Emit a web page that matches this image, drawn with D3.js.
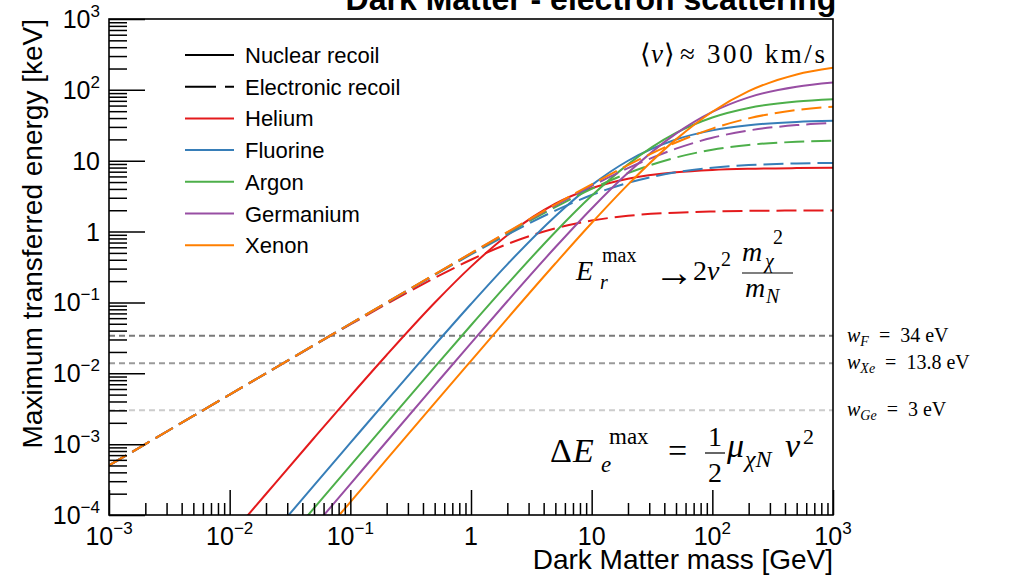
<!DOCTYPE html>
<html>
<head>
<meta charset="utf-8">
<script src="https://cdn.jsdelivr.net/npm/d3@7"></script>
<style>
  body { margin: 0; background: #fff; }
  svg { display: block; }
  .sans { font-family: "Liberation Sans", Arial, Helvetica, sans-serif; }
  .serif { font-family: "Liberation Serif", "Times New Roman", serif; }
</style>
</head>
<body>
<svg id="chart"></svg>
<script>
// Dark matter mass grid [GeV]
var masses = [0.001, 0.002, 0.005, 0.01, 0.02, 0.05, 0.1, 0.2, 0.5, 1, 2, 5, 10, 20, 50, 100, 200, 500, 1000];

var elements = ["Helium", "Fluorine", "Argon", "Germanium", "Xenon"];

// Maximum nuclear recoil energy [keV] (null = far below the axis)
var nuclearHe = [null, null, null, 4.98e-5, 1.98e-4, 1.22e-3, 4.76e-3, 0.0181, 0.0988, 0.320, 0.889, 2.47, 4.08, 5.56, 6.86, 7.40, 7.69, 7.87, 7.94];
var nuclearF  = [null, null, null, null, 4.20e-5, 2.62e-4, 1.04e-3, 4.12e-3, 0.0250, 0.0950, 0.345, 1.65, 4.52, 9.99, 19.95, 26.8, 31.7, 35.3, 36.6];
var nuclearAr = [null, null, null, null, 2.00e-5, 1.25e-4, 4.98e-4, 1.98e-3, 0.0122, 0.0476, 0.181, 0.988, 3.20, 8.89, 24.7, 40.8, 55.6, 68.6, 74.0];
var nuclearGe = [null, null, null, null, null, 6.84e-5, 2.73e-4, 1.09e-3, 6.76e-3, 0.0267, 0.104, 0.600, 2.12, 6.75, 24.1, 48.8, 78.4, 111, 127];
var nuclearXe = [null, null, null, null, null, 3.81e-5, 1.52e-4, 6.09e-4, 3.79e-3, 0.0150, 0.0592, 0.354, 1.32, 4.60, 20.0, 49.1, 95.7, 165, 205];

// Maximum electronic recoil energy [keV]
var electronHe = [5.0e-4, 1.0e-3, 2.50e-3, 4.99e-3, 9.95e-3, 0.0247, 0.0488, 0.0952, 0.222, 0.400, 0.667, 1.11, 1.43, 1.67, 1.85, 1.92, 1.96, 1.98, 1.99];
var electronF  = [5.0e-4, 1.0e-3, 2.50e-3, 5.00e-3, 9.99e-3, 0.0249, 0.0497, 0.0990, 0.244, 0.475, 0.905, 1.98, 3.28, 4.87, 6.88, 7.98, 8.68, 9.15, 9.32];
var electronAr = [5.0e-4, 1.0e-3, 2.50e-3, 5.00e-3, 1.00e-2, 0.0250, 0.0499, 0.0995, 0.247, 0.488, 0.952, 2.22, 4.00, 6.67, 11.1, 14.3, 16.7, 18.5, 19.2];
var electronGe = [5.0e-4, 1.0e-3, 2.50e-3, 5.00e-3, 1.00e-2, 0.0250, 0.0499, 0.0997, 0.248, 0.493, 0.973, 2.34, 4.40, 7.85, 14.8, 21.1, 26.7, 31.8, 34.0];
var electronXe = [5.0e-4, 1.0e-3, 2.50e-3, 5.00e-3, 1.00e-2, 0.0250, 0.0500, 0.0998, 0.249, 0.496, 0.985, 2.41, 4.65, 8.68, 18.1, 28.4, 39.6, 51.9, 57.9];

// Mean ionisation energies [keV]
var wValues = [0.034, 0.0138, 0.003];
var wSymbols = ["F", "Xe", "Ge"];
var wTexts = ["34 eV", "13.8 eV", "3 eV"];

// tick labels
var xTickValues = [1e-3, 1e-2, 1e-1, 1, 10, 1e2, 1e3];
var xTickLabels = ["10^−3", "10^−2", "10^−1", "1", "10", "10^2", "10^3"];
var yTickValues = [1e-4, 1e-3, 1e-2, 1e-1, 1, 10, 1e2, 1e3];
var yTickLabels = ["10^−4", "10^−3", "10^−2", "10^−1", "1", "10", "10^2", "10^3"];

var colors = ["#e41a1c", "#377eb8", "#4daf4a", "#984ea3", "#ff7f00"];
var wColors = ["#7a7a7a", "#9a9a9a", "#cccccc"];

var nuclear = [nuclearHe, nuclearF, nuclearAr, nuclearGe, nuclearXe];
var electron = [electronHe, electronF, electronAr, electronGe, electronXe];

var width = 1011, height = 575;
var margin = { top: 19, right: 178, bottom: 60, left: 109 };
var pw = width - margin.left - margin.right,
    ph = height - margin.top - margin.bottom;

var svg = d3.select("#chart").attr("width", width).attr("height", height);

var x = d3.scaleLog().domain([1e-3, 1e3]).range([margin.left, margin.left + pw]);
var y = d3.scaleLog().domain([1e-4, 1e3]).range([margin.top + ph, margin.top]);

svg.append("clipPath").attr("id", "clip")
    .append("rect")
    .attr("x", margin.left).attr("y", margin.top)
    .attr("width", pw).attr("height", ph);

// ionisation energy lines
var plot = svg.append("g").attr("clip-path", "url(#clip)");
wValues.forEach(function (w, i) {
    plot.append("line")
        .attr("x1", x(1e-3)).attr("x2", x(1e3))
        .attr("y1", y(w)).attr("y2", y(w))
        .attr("stroke", wColors[i])
        .attr("stroke-width", 2)
        .attr("stroke-dasharray", "6,4");
});

var line = d3.line()
    .defined(function (d) { return d[1] != null; })
    .x(function (d) { return x(d[0]); })
    .y(function (d) { return y(d[1]); })
    .curve(d3.curveMonotoneX);

elements.forEach(function (el, i) {
    plot.append("path")
        .datum(masses.map(function (m, j) { return [m, nuclear[i][j]]; }))
        .attr("d", line)
        .attr("fill", "none")
        .attr("stroke", colors[i])
        .attr("stroke-width", 2);
    plot.append("path")
        .datum(masses.map(function (m, j) { return [m, electron[i][j]]; }))
        .attr("d", line)
        .attr("fill", "none")
        .attr("stroke", colors[i])
        .attr("stroke-width", 2)
        .attr("stroke-dasharray", "20,7");
});

// minor tick values
function minors(lo, hi) {
    var out = [];
    for (var e = lo; e < hi; e++) {
        for (var k = 2; k <= 9; k++) out.push(k * Math.pow(10, e));
    }
    return out;
}

// axes (ticks point inwards)
var gx = svg.append("g").attr("transform", "translate(0," + (margin.top + ph) + ")");
gx.append("g").call(d3.axisBottom(x).tickValues(xTickValues).tickSize(-25).tickFormat(""));
gx.append("g").call(d3.axisBottom(x).tickValues(minors(-3, 3)).tickSize(-12).tickFormat(""));

var gy = svg.append("g").attr("transform", "translate(" + margin.left + ",0)");
gy.append("g").call(d3.axisLeft(y).tickValues(yTickValues).tickSize(-36).tickFormat(""));
gy.append("g").call(d3.axisLeft(y).tickValues(minors(-4, 3)).tickSize(-18).tickFormat(""));

svg.selectAll(".domain").remove();
svg.selectAll(".tick line").attr("stroke", "#000").attr("stroke-width", 1.5);

// frame
svg.append("rect")
    .attr("x", margin.left).attr("y", margin.top)
    .attr("width", pw).attr("height", ph)
    .attr("fill", "none").attr("stroke", "#000").attr("stroke-width", 1.6);

// tick labels with exponents
function powerLabel(sel, label) {
    var parts = label.split("^");
    sel.append("tspan").text(parts[0]);
    if (parts.length > 1) {
        sel.append("tspan")
            .attr("dy", -11)
            .attr("font-size", "17px")
            .text(parts[1]);
    }
}

xTickValues.forEach(function (v, i) {
    var t = svg.append("text")
        .attr("class", "sans")
        .attr("x", x(v)).attr("y", 545)
        .attr("text-anchor", "middle")
        .attr("font-size", "25px");
    powerLabel(t, xTickLabels[i]);
});

yTickValues.forEach(function (v, i) {
    var t = svg.append("text")
        .attr("class", "sans")
        .attr("x", 100).attr("y", y(v) + 9)
        .attr("text-anchor", "end")
        .attr("font-size", "25px");
    powerLabel(t, yTickLabels[i]);
});

// axis titles
svg.append("text")
    .attr("class", "sans")
    .attr("x", margin.left + pw).attr("y", 569)
    .attr("text-anchor", "end")
    .attr("font-size", "28px")
    .text("Dark Matter mass [GeV]");

svg.append("text")
    .attr("class", "sans")
    .attr("transform", "translate(42," + margin.top + ") rotate(-90)")
    .attr("text-anchor", "end")
    .attr("font-size", "28px")
    .text("Maximum transferred energy [keV]");

// title (cut by the top edge)
svg.append("text")
    .attr("class", "sans")
    .attr("x", 591).attr("y", 10)
    .attr("text-anchor", "middle")
    .attr("font-size", "32px")
    .attr("font-weight", "bold")
    .text("Dark Matter - electron scattering");

// legend
var legendRows = ["Nuclear recoil", "Electronic recoil"].concat(elements);
var legendColors = ["#000", "#000"].concat(colors);
legendRows.forEach(function (name, i) {
    var ly = 55 + i * 31.7;
    svg.append("line")
        .attr("x1", 185).attr("x2", 234)
        .attr("y1", ly).attr("y2", ly)
        .attr("stroke", legendColors[i])
        .attr("stroke-width", 2)
        .attr("stroke-dasharray", i === 1 ? "31,9" : null);
    svg.append("text")
        .attr("class", "sans")
        .attr("x", 245).attr("y", ly + 8)
        .attr("font-size", "22px")
        .text(name);
});

// annotations
var serif = function (txt, px, py, size, italic, anchor) {
    return svg.append("text")
        .attr("class", "serif")
        .attr("x", px).attr("y", py)
        .attr("font-size", size + "px")
        .attr("font-style", italic ? "italic" : "normal")
        .attr("text-anchor", anchor || "start")
        .text(txt);
};

serif("⟨", 640, 63, 27, false);
serif("v", 651, 63, 27, true);
serif("⟩", 664, 63, 27, false);
serif("≈", 680, 63, 27, false);
serif("300 km/s", 707, 63, 27, false)
    .attr("textLength", 118).attr("lengthAdjust", "spacing");

// E_r^max -> 2 v^2 m_chi^2 / m_N
serif("E", 576, 280, 28, true);
serif("max", 602, 262, 20, false);
serif("r", 600, 289, 20, true);
serif("→", 654, 286, 40, false);
serif("2", 693, 280, 28, false);
serif("v", 707, 280, 28, true);
serif("2", 721, 266, 20, false);
serif("m", 742, 261, 28, true);
serif("χ", 765, 268, 20, true);
serif("2", 773, 244, 20, false);
svg.append("line").attr("x1", 742).attr("x2", 793).attr("y1", 273).attr("y2", 273)
    .attr("stroke", "#000").attr("stroke-width", 1.2);
serif("m", 745, 297, 28, true);
serif("N", 766, 303, 20, true);

// Delta E_e^max = 1/2 mu_chiN v^2
serif("Δ", 550, 462, 34, false);
serif("E", 573, 462, 34, true);
serif("max", 609, 444, 23, false);
serif("e", 601, 472, 23, true);
serif("=", 668, 462, 34, false);
serif("1", 708, 446, 28, false);
svg.append("line").attr("x1", 705).attr("x2", 725).attr("y1", 453).attr("y2", 453)
    .attr("stroke", "#000").attr("stroke-width", 1.2);
serif("2", 708, 482, 28, false);
serif("μ", 727, 457, 34, true);
serif("χN", 745, 467, 24, true);
serif("v", 785, 457, 34, true);
serif("2", 803, 444, 22, false);

// w labels on the right
wValues.forEach(function (w, i) {
    var by = y(w) + 6;
    var t = svg.append("text")
        .attr("class", "serif")
        .attr("x", 847).attr("y", by)
        .attr("font-size", "20px");
    t.append("tspan").attr("font-style", "italic").text("w");
    t.append("tspan").attr("font-style", "italic").attr("font-size", "14px")
        .attr("dy", 4).text(wSymbols[i]);
    t.append("tspan").attr("dy", -4).text("\u2002=\u2002" + wTexts[i]);
});
</script>
</body>
</html>
